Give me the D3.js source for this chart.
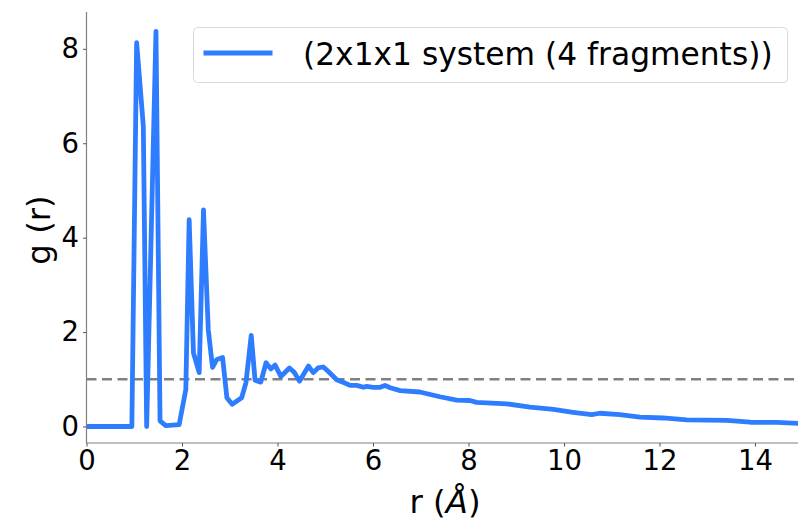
<!DOCTYPE html>
<html>
<head>
<meta charset="utf-8">
<script src="https://cdn.jsdelivr.net/npm/d3@7"></script>
<style>
  html, body { margin: 0; padding: 0; background: #fff; }
  svg { display: block; font-family: "DejaVu Sans", sans-serif; }
</style>
</head>
<body>
<svg id="chart" width="798" height="521"></svg>
<script>
// ---- data ----
const rValues = [0, 0.95, 1.05, 1.19, 1.26, 1.455, 1.54, 1.66, 1.94, 2.08, 2.15, 2.24, 2.36, 2.45, 2.55, 2.64, 2.73, 2.85, 2.94, 3.05, 3.25, 3.34, 3.45, 3.53, 3.65, 3.76, 3.86, 3.95, 4.07, 4.25, 4.35, 4.46, 4.65, 4.75, 4.85, 4.96, 5.06, 5.24, 5.41, 5.52, 5.66, 5.80, 5.87, 6.0, 6.15, 6.25, 6.36, 6.57, 6.98, 7.40, 7.75, 8.03, 8.17, 8.80, 9.29, 9.78, 10.19, 10.58, 10.75, 11.17, 11.59, 12.08, 12.57, 13.41, 13.90, 14.46, 15.0];
const gValues = [0, 0, 8.13, 6.36, 0, 8.37, 0.12, 0.02, 0.04, 0.78, 4.38, 1.56, 1.14, 4.59, 2.05, 1.25, 1.42, 1.46, 0.61, 0.47, 0.61, 0.93, 1.93, 0.98, 0.94, 1.35, 1.22, 1.30, 1.06, 1.24, 1.15, 0.96, 1.28, 1.14, 1.24, 1.26, 1.17, 0.99, 0.92, 0.87, 0.87, 0.83, 0.85, 0.83, 0.83, 0.87, 0.82, 0.76, 0.73, 0.63, 0.56, 0.55, 0.51, 0.48, 0.41, 0.36, 0.30, 0.25, 0.28, 0.25, 0.20, 0.18, 0.14, 0.13, 0.09, 0.085, 0.06];
const xTicks = [0, 2, 4, 6, 8, 10, 12, 14];
const yTicks = [0, 2, 4, 6, 8];
const referenceLevel = 1;
const seriesLabel = "(2x1x1 system (4 fragments))";
const xLabel = "r (";
const xLabelUnit = "Å";
const yLabel = "g (r)";

// ---- layout ----
const svg = d3.select("#chart");
const plot = { left: 86.5, right: 802.75, top: 12, bottom: 443 };
const tickFont = 27.5;
const labelFont = 32.4;
const legendFont = 31.3;
const lineColor = "#2f7dff";

const x = d3.scaleLinear().domain([0, 15]).range([plot.left, plot.right]);
const y = d3.scaleLinear().domain([-0.35, 8.78]).range([plot.bottom, plot.top]);

svg.append("defs").append("clipPath").attr("id", "clip")
  .append("rect").attr("x", plot.left).attr("y", plot.top)
  .attr("width", plot.right - plot.left).attr("height", plot.bottom - plot.top);

const data = rValues.map((r, i) => ({ r, g: gValues[i] }));

// reference dashed line
svg.append("line")
  .attr("clip-path", "url(#clip)")
  .attr("x1", x(0)).attr("x2", x(15))
  .attr("y1", y(referenceLevel)).attr("y2", y(referenceLevel))
  .attr("stroke", "#808080").attr("stroke-width", 2.6)
  .attr("stroke-dasharray", "10,5.5");

// g(r) line
const line = d3.line().x(d => x(d.r)).y(d => y(d.g));
svg.append("path")
  .datum(data)
  .attr("clip-path", "url(#clip)")
  .attr("d", line)
  .attr("fill", "none")
  .attr("stroke", lineColor)
  .attr("stroke-width", 4.8)
  .attr("stroke-linejoin", "round")
  .attr("stroke-linecap", "butt");

// axes
const xAxis = d3.axisBottom(x).tickValues(xTicks).tickSize(3.5).tickPadding(4).tickFormat(d3.format("d"));
const yAxis = d3.axisLeft(y).tickValues(yTicks).tickSize(3.5).tickPadding(4).tickFormat(d3.format("d"));

const gx = svg.append("g").attr("transform", `translate(0,${plot.bottom})`).call(xAxis);
const gy = svg.append("g").attr("transform", `translate(${plot.left},0)`).call(yAxis);

[gx, gy].forEach(g => {
  g.select(".domain").attr("stroke", "#808080").attr("stroke-width", 1.2);
  g.selectAll(".tick line").attr("stroke", "#555").attr("stroke-width", 1);
  g.selectAll(".tick text")
    .attr("fill", "#000")
    .style("font-family", "'DejaVu Sans', sans-serif")
    .style("font-size", tickFont + "px");
});
gx.select(".domain").attr("d", `M${plot.left},0H${plot.right}`);
gy.select(".domain").attr("d", `M0,${plot.bottom}V${plot.top}`);

// axis labels
const xl = svg.append("text")
  .attr("x", 445).attr("y", 512.5)
  .attr("text-anchor", "middle")
  .style("font-size", labelFont + "px")
  .attr("fill", "#000");
xl.append("tspan").text(xLabel);
xl.append("tspan").attr("font-style", "italic").text(xLabelUnit);
xl.append("tspan").text(")");

svg.append("text")
  .attr("transform", `translate(50,230) rotate(-90)`)
  .attr("text-anchor", "middle")
  .style("font-size", labelFont + "px")
  .attr("fill", "#000")
  .text(yLabel);

// legend
const lg = svg.append("g");
lg.append("rect")
  .attr("x", 193.5).attr("y", 27.5)
  .attr("width", 594).attr("height", 55)
  .attr("rx", 4).attr("ry", 4)
  .attr("fill", "#fff").attr("fill-opacity", 0.8)
  .attr("stroke", "#d9d9d9").attr("stroke-width", 1);
lg.append("line")
  .attr("x1", 203.5).attr("x2", 272.5)
  .attr("y1", 53).attr("y2", 53)
  .attr("stroke", lineColor).attr("stroke-width", 4.8);
lg.append("text")
  .attr("x", 303).attr("y", 64.5)
  .style("font-size", legendFont + "px")
  .attr("fill", "#000")
  .text(seriesLabel);
</script>
</body>
</html>
